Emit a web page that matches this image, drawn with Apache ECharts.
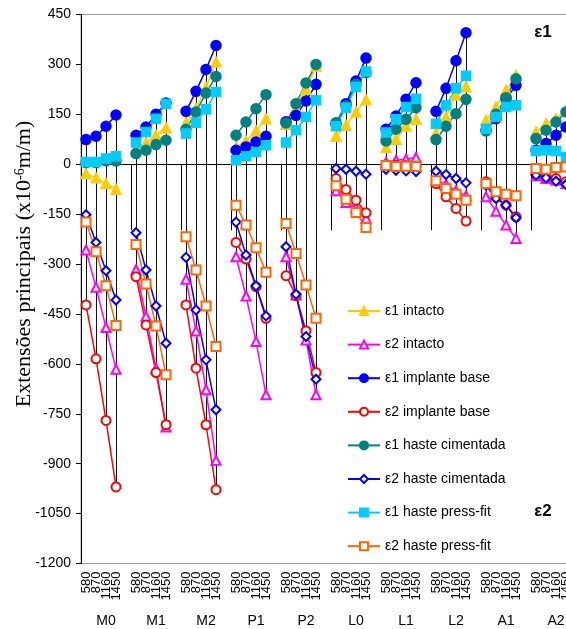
<!DOCTYPE html>
<html>
<head>
<meta charset="utf-8">
<script src="https://cdn.jsdelivr.net/npm/echarts@6/dist/echarts.min.js"></script>
<style>
	html, body { margin: 0; padding: 0; background: #fff; }
	#chart { width: 566px; height: 629px; }
</style>
</head>
<body>
<div id="chart"></div>
<script>
// sub categories (load) and groups (gauge position)
const loads = ["580", "870", "1160", "1450"];
const groups = ["M0", "M1", "M2", "P1", "P2", "L0", "L1", "L2", "A1", "A2"];

// values per group, 4 loads each, order M0..A2
const e1Intacto = [
	-28, -41, -58, -75,   48, 64, 87, 109,   124, 167, 230, 307,   52, 70, 100, 137,   120, 170, 225, 295,
	84, 117, 157, 194,   50, 75, 115, 135,   94, 142, 208, 233,   132, 172, 222, 267,   97, 122, 137, 162
];
const e2Intacto = [
	-258, -370, -491, -616,   -317, -457, -614, -790,   -346, -501, -678, -890,   -278, -396, -533, -693,   -278, -393, -528, -693,
	-80, -115, -130, -162,   5, 12, 15, 20,   -50, -60, -80, -95,   -98, -141, -183, -223,   -35, -43, -48, -58
];
const e1Implante = [
	74, 84, 114, 148,   87, 112, 150, 184,   159, 219, 285, 357,   42, 52, 67, 84,   128, 147, 190, 240,
	120, 182, 250, 319,   105, 145, 195, 245,   159, 228, 311, 395,   102, 137, 197, 237,   42, 62, 87, 112
];
const e2Implante = [
	-423, -585, -770, -970,   -338, -483, -626, -783,   -423, -613, -783, -978,   -235, -285, -368, -463,   -335, -395, -501, -626,
	-43, -76, -108, -146,   -2, -3, -4, -5,   -58, -98, -133, -171,   -53, -98, -123, -158,   -28, -38, -43, -53
];
const e1Cimentada = [
	5, 5, 10, 10,   32, 42, 59, 72,   105, 157, 214, 264,   87, 127, 167, 209,   124, 182, 244, 300,
	125, 175, 240, 275,   70, 105, 135, 170,   74, 114, 152, 195,   100, 150, 200, 257,   77, 102, 127, 157
];
const e2Cimentada = [
	-152, -235, -320, -408,   -206, -318, -426, -538,   -280, -438, -588, -738,   -174, -273, -366, -456,   -248, -391, -518, -646,
	-13, -15, -21, -30,   -15, -18, -20, -22,   -21, -31, -43, -56,   -63, -103, -123, -161,   -33, -41, -51, -61
];
const e1PressFit = [
	7, 7, 17, 24,   65, 97, 137, 182,   92, 125, 165, 217,   12, 24, 37, 57,   65, 102, 142, 192,
	114, 170, 232, 279,   95, 135, 172, 197,   122, 177, 228, 266,   107, 142, 172, 177,   40, 42, 40, 22
];
const e2PressFit = [
	-174, -263, -365, -485,   -241, -360, -486, -633,   -218, -318, -426, -548,   -123, -183, -251, -325,   -178, -268, -363, -463,
	-65, -105, -145, -190,   -4, -7, -6, -7,   -50, -73, -90, -108,   -58, -83, -90, -95,   -13, -15, -10, -8
];

const yTicks = { min: -1200, max: 450, step: 150 };

// each group gets an empty slot after it, so lines break between groups
const cats = [];
groups.forEach(() => { loads.forEach(l => cats.push(l)); cats.push(""); });

function spread(vals) {
	const out = [];
	groups.forEach((g, gi) => {
		loads.forEach((l, li) => out.push(vals[gi * loads.length + li]));
		out.push(null);
	});
	return out;
}

const allSeries = [
	{ name: "ε1 intacto", vals: e1Intacto, color: "#FFCC00", symbol: "triangle" },
	{ name: "ε2 intacto", vals: e2Intacto, color: "#FF00FF", symbol: "emptyTriangle" },
	{ name: "ε1 implante base", vals: e1Implante, color: "#0000FF", symbol: "circle" },
	{ name: "ε2 implante base", vals: e2Implante, color: "#FF0000", symbol: "emptyCircle" },
	{ name: "ε1 haste cimentada", vals: e1Cimentada, color: "#008080", symbol: "circle" },
	{ name: "ε2 haste cimentada", vals: e2Cimentada, color: "#0000FF", symbol: "emptyDiamond" },
	{ name: "ε1 haste press-fit", vals: e1PressFit, color: "#00CCFF", symbol: "rect" },
	{ name: "ε2 haste press-fit", vals: e2PressFit, color: "#FF6600", symbol: "emptyRect" }
];

// high-low lines: max to min of all series per category
const hiLow = [];
cats.forEach((c, i) => {
	if (c === "") return;
	const gi = Math.floor(i / 5), li = i % 5;
	const vs = allSeries.map(s => s.vals[gi * 4 + li]);
	hiLow.push([i, Math.max(...vs), Math.min(...vs)]);
});

// plot area runs past the right edge of the picture (A2 is cut off)
const gridBox = { left: 81, top: 14.5, width: 500, height: 549, outerBoundsMode: "none" };
const font = "'Liberation Sans', Arial, sans-serif";

let chart = echarts.init(document.getElementById("chart"));

const lineSeries = allSeries.map(s => ({
	name: s.name,
	type: "line",
	data: spread(s.vals),
	symbol: s.symbol,
	symbolSize: s.symbol.indexOf("empty") === 0 ? 9 : (s.symbol === "rect" ? 9 : 10),
	connectNulls: false,
	lineStyle: { color: s.color, width: 1.5 },
	itemStyle: { color: s.color, borderColor: s.color, borderWidth: 1.5 },
	z: 3
}));

// zero line
lineSeries[0].markLine = {
	silent: true,
	symbol: "none",
	label: { show: false },
	lineStyle: { color: "#000", width: 1, type: "solid" },
	data: [{ yAxis: 0 }],
	z: 1
};

chart.setOption({
	animation: false,
	backgroundColor: "#fff",
	grid: [
		Object.assign({ show: true, borderColor: "#999", borderWidth: 1, backgroundColor: "transparent" }, gridBox),
		Object.assign({ show: false }, gridBox)
	],
	legend: {
		orient: "vertical",
		left: 347,
		top: 304,
		padding: 0,
		itemWidth: 32,
		itemHeight: 10,
		itemGap: 19.6,
		data: allSeries.map(s => s.name),
		textStyle: { fontFamily: font, fontSize: 14, color: "#000", lineHeight: 14 }
	},
	xAxis: [
		{
			type: "category",
			gridIndex: 0,
			data: cats,
			boundaryGap: true,
			axisLine: { show: false },
			axisTick: { show: false },
			splitLine: { show: false },
			axisLabel: { interval: 0, rotate: 90, fontFamily: font, fontSize: 13, color: "#000", margin: 8 }
		},
		{
			type: "category",
			gridIndex: 1,
			data: groups,
			boundaryGap: true,
			axisLine: { show: false },
			axisTick: { show: true, length: 66, lineStyle: { color: "#000", width: 1 } },
			splitLine: { show: false },
			axisLabel: { interval: 0, fontFamily: font, fontSize: 14, color: "#000", margin: 51 }
		}
	],
	yAxis: [
		{
			type: "value",
			gridIndex: 0,
			min: yTicks.min,
			max: yTicks.max,
			interval: yTicks.step,
			axisLine: { show: true, lineStyle: { color: "#000", width: 1 } },
			axisTick: { show: true, length: 5, lineStyle: { color: "#000" } },
			splitLine: { show: false },
			axisLabel: {
				fontFamily: font, fontSize: 14, color: "#000", margin: 10,
				formatter: v => String(v)
			}
		},
		{
			type: "value",
			gridIndex: 1,
			min: yTicks.min,
			max: yTicks.max,
			show: false
		}
	],
	graphic: [
		{
			type: "text",
			x: 24,
			y: 264,
			rotation: Math.PI / 2,
			style: {
				text: "Extensões principais (x10{sup|-6}m/m)",
				font: "22px 'Liberation Serif', 'Times New Roman', serif",
				fill: "#000",
				align: "center",
				verticalAlign: "middle",
				rich: {
					sup: { fontSize: 14, fontFamily: "'Liberation Serif', serif", verticalAlign: "top", padding: [0, 0, 8, 0] }
				}
			}
		},
		{
			type: "text",
			x: 543,
			y: 32,
			style: { text: "ε1", font: "bold 17px " + font, fill: "#000", align: "center", verticalAlign: "middle" }
		},
		{
			type: "text",
			x: 543,
			y: 511,
			style: { text: "ε2", font: "bold 17px " + font, fill: "#000", align: "center", verticalAlign: "middle" }
		}
	],
	series: [
		{
			type: "custom",
			name: "hilow",
			xAxisIndex: 0,
			yAxisIndex: 0,
			silent: true,
			z: 1,
			data: hiLow,
			encode: { x: 0, y: [1, 2] },
			renderItem: function (params, api) {
				let a = api.coord([api.value(0), api.value(1)]);
				let b = api.coord([api.value(0), api.value(2)]);
				// snap to pixel so the 1px line stays crisp
				let x = Math.round(a[0]) + 0.5;
				return {
					type: "line",
					shape: { x1: x, y1: a[1], x2: x, y2: b[1] },
					style: { stroke: "#111", lineWidth: 1 }
				};
			}
		}
	].concat(lineSeries)
});
</script>
</body>
</html>
